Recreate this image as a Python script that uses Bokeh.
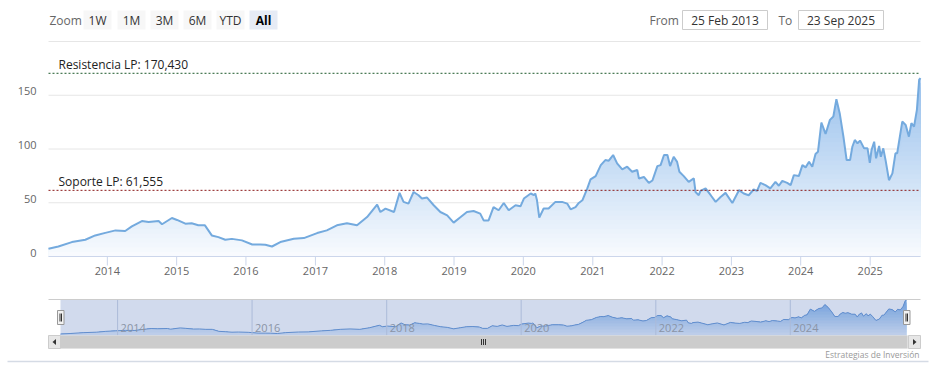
import numpy as np
import pandas as pd
from bokeh.plotting import figure
from bokeh.models import Range1d
from bokeh.embed import file_html
from bokeh.resources import INLINE
from bokeh.core.properties import value

# ---------------- data ----------------
dates = [
    "2013-02-25", "2013-04-18", "2013-06-28", "2013-09-07", "2013-10-29", "2013-12-21",
    "2014-02-13", "2014-04-05", "2014-05-10", "2014-07-02", "2014-08-06", "2014-09-28", "2014-10-16", "2014-12-07",
    "2015-01-03", "2015-02-16", "2015-03-21", "2015-04-25", "2015-05-30", "2015-07-05", "2015-08-09", "2015-09-14",
    "2015-10-19", "2015-12-11",
    "2016-02-03", "2016-03-16", "2016-04-12", "2016-05-17", "2016-06-30", "2016-09-09", "2016-11-01",
    "2017-01-10", "2017-03-02", "2017-04-24", "2017-06-16", "2017-08-08", "2017-09-30", "2017-11-22", "2017-12-09",
    "2018-01-05", "2018-02-19", "2018-03-20", "2018-04-10", "2018-05-06", "2018-06-02", "2018-06-28", "2018-07-16",
    "2018-08-12", "2018-09-16", "2018-10-21", "2018-11-26", "2018-12-30",
    "2019-02-05", "2019-03-10", "2019-04-14", "2019-05-19", "2019-06-06", "2019-07-02", "2019-07-28", "2019-08-24",
    "2019-09-20", "2019-10-16", "2019-11-21", "2019-12-17",
    "2020-01-04", "2020-02-09", "2020-02-26", "2020-03-04", "2020-03-13", "2020-03-25", "2020-04-17", "2020-05-13",
    "2020-06-18", "2020-07-23", "2020-08-19", "2020-09-06", "2020-10-02", "2020-10-19", "2020-11-07", "2020-12-03",
    "2020-12-20",
    "2021-01-16", "2021-02-12", "2021-03-08", "2021-03-25", "2021-04-18", "2021-05-09", "2021-06-05", "2021-07-01",
    "2021-07-27", "2021-08-23", "2021-09-01", "2021-09-27", "2021-10-23", "2021-11-11", "2021-12-07", "2021-12-24",
    "2022-01-11", "2022-01-29", "2022-02-12", "2022-03-03", "2022-03-21", "2022-04-02", "2022-04-25", "2022-05-21",
    "2022-06-17", "2022-06-26", "2022-07-13", "2022-07-22", "2022-08-18", "2022-09-14", "2022-10-10", "2022-11-05",
    "2022-12-01",
    "2023-01-06", "2023-02-10", "2023-03-07", "2023-04-02", "2023-04-28", "2023-05-16", "2023-06-03", "2023-06-29",
    "2023-07-25", "2023-08-21", "2023-09-08", "2023-09-26", "2023-10-22", "2023-11-09", "2023-11-26", "2023-12-22",
    "2024-01-10", "2024-01-27", "2024-02-14", "2024-03-02", "2024-03-19", "2024-04-01", "2024-04-19", "2024-05-11",
    "2024-06-03", "2024-06-21", "2024-07-07", "2024-07-25", "2024-08-13", "2024-08-30", "2024-09-17", "2024-09-29",
    "2024-10-12", "2024-10-26", "2024-11-09", "2024-11-30", "2024-12-18", "2024-12-30",
    "2025-01-08", "2025-01-22", "2025-02-01", "2025-02-17", "2025-02-26", "2025-03-11", "2025-03-23", "2025-04-10",
    "2025-04-28", "2025-05-14", "2025-05-23", "2025-06-19", "2025-07-07", "2025-07-24", "2025-08-06", "2025-08-20",
    "2025-09-04", "2025-09-16", "2025-09-23",
]
prices = [
    7.2, 9.3, 13.4, 15.6, 19.6, 22,
    24.3, 23.7, 28, 33, 32, 33, 30, 35.8,
    34, 30.5, 30.9, 29, 29, 19.6, 18, 15.6, 16.4, 15,
    11.2, 11.2, 10.9, 9.3, 13.4, 16.5, 17.1,
    21.8, 24.3, 29, 31, 29, 36.7, 48.3, 41.4,
    44.6, 41.4, 59.2, 50.8, 49.2, 60, 57, 53.9, 54.8, 47.7, 41.4, 38.3, 31.5,
    36.7, 41.4, 42.3, 39.9, 33.6, 33.6, 46, 43, 49.8, 43, 47.7, 46.7,
    53.9, 58.6, 57, 58.6, 52.3, 36.2, 44.6, 44.6, 50.8, 50.8, 49.2, 43.9, 46, 49.8, 52.3, 63.3, 71.7,
    74.8, 85, 89.7, 89, 94.4, 86.6, 81, 83.5, 78.8, 80.4, 72.6, 74, 68.5, 70.7, 84.1, 85,
    94.4, 94.4, 84.1, 92.8, 88, 78.8, 74.8, 69.4, 72.6, 60, 57, 61, 63.3, 57, 50.8, 55.4, 59.2,
    49.8, 61.7, 58.6, 57, 62.3, 61, 68.5, 66.4, 63.3, 69.4, 65.8, 70.4, 68.5, 66.4, 75.7, 74.8,
    85, 82.9, 88.1, 83.5, 95.3, 97.5, 124.6, 114, 127.1, 130.2, 146.4, 132.7, 111.5, 89.7, 89.7, 102.1,
    108.4, 105.3, 107.8, 100.6, 100.6, 87.2,
    99, 106.8, 91.3, 102.8, 92.8, 100.6, 89.7, 71, 77.3, 96, 96, 125.5, 122.4, 111.5, 124, 120.8,
    136.4, 164.5, 166,
]
year_ticks = [2014, 2015, 2016, 2017, 2018, 2019, 2020, 2021, 2022, 2023, 2024, 2025]
nav_year_ticks = [2014, 2016, 2018, 2020, 2022, 2024]
y_ticks = [0, 50, 100, 150, 200]
y_tick_labels = ["0", "50", "100", "150", ""]
resistance = 170.430
support = 61.555
range_start = "2013-02-25"
range_end = "2025-09-23"
zoom_buttons = ["1W", "1M", "3M", "6M", "YTD", "All"]
selected_button = "All"
credit = "Estrategias de Inversión"

FONT = "Open Sans"

dt = pd.to_datetime(dates)
vals = np.array(prices, dtype=float)
x0 = pd.Timestamp(range_start)
x1 = pd.Timestamp(range_end)


def ms(t):
    return pd.Timestamp(t).value / 1e6


def mix(c_lo, c_hi, t):
    r = [int(round(a + (b - a) * t)) for a, b in zip(c_lo, c_hi)]
    return "#%02x%02x%02x" % tuple(r)


def fmt_es(v):
    return f"{v:,.3f}".replace(",", " ").replace(".", ",").replace(" ", ".")


# ---------------- one canvas; default ranges are page pixels ----------------
W, H = 930, 368
PX0, PY0 = 0, 0
p = figure(width=W, height=H, x_range=Range1d(PX0, PX0 + W), y_range=Range1d(PY0 + H, PY0),
           x_axis_type=None, y_axis_type=None, toolbar_location=None,
           output_backend="svg", min_border=0)
p.outline_line_color = None
p.grid.visible = False

# plot-area geometry (pixels) -> library ranges
PL, PR, PT, PB = 48, 920, 41, 256          # main plot frame
NL, NR, NT, NB = 60, 906, 299, 335         # navigator series area
YMAX, NVMAX = 200, 170

k1 = (ms(x1) - ms(x0)) / (PR - PL)
p.extra_x_ranges["date"] = Range1d(ms(x0) - (PL - PX0) * k1, ms(x1) + (PX0 + W - PR) * k1)
kp = YMAX / (PB - PT)
p.extra_y_ranges["price"] = Range1d(0 - (PY0 + H - PB) * kp, YMAX + (PT - PY0) * kp)
k2 = (ms(x1) - ms(x0)) / (NR - NL)
p.extra_x_ranges["navdate"] = Range1d(ms(x0) - (NL - PX0) * k2, ms(x1) + (PX0 + W - NR) * k2)
kv = NVMAX / (NB - NT)
p.extra_y_ranges["navval"] = Range1d(0 - (PY0 + H - NB) * kv, NVMAX + (NT - PY0) * kv)

MAIN = dict(x_range_name="date", y_range_name="price")
NAV = dict(x_range_name="navdate", y_range_name="navval")

# ---------------- header (range selector) ----------------
btn_left = [83, 117, 150, 183, 216, 249]
btn_w = 28
for lbl, left in zip(zoom_buttons, btn_left):
    sel = lbl == selected_button
    p.quad(left=left, right=left + btn_w, top=10, bottom=29,
           fill_color="#e6ebf5" if sel else "#f7f7f7", line_color=None)
    p.text(x=[left + btn_w / 2], y=[19.5], text=[lbl], text_align="center", text_baseline="middle",
           text_font=value(FONT), text_font_size="12px", text_color="#000000" if sel else "#333333",
           text_font_style="bold" if sel else "normal")
p.text(x=[49], y=[19.5], text=["Zoom"], text_align="left", text_baseline="middle",
       text_font=value(FONT), text_font_size="12px", text_color="#666666")
p.text(x=[649], y=[19.5], text=["From"], text_align="left", text_baseline="middle",
       text_font=value(FONT), text_font_size="12px", text_color="#666666")
p.text(x=[778], y=[19.5], text=["To"], text_align="left", text_baseline="middle",
       text_font=value(FONT), text_font_size="12px", text_color="#666666")
for left, t in [(682, x0), (798, x1)]:
    p.quad(left=left, right=left + 85, top=10, bottom=29, fill_color="white", line_color="#cccccc")
    p.text(x=[left + 42.5], y=[19.5], text=[t.strftime("%d %b %Y")], text_align="center",
           text_baseline="middle", text_font=value(FONT), text_font_size="12px", text_color="#333333")

# ---------------- main chart ----------------
# horizontal grid + y labels
p.segment(x0=ms(x0), x1=ms(x1), y0=y_ticks[1:], y1=y_ticks[1:], line_color="#e6e6e6", line_width=1, **MAIN)
p.text(x=ms(x0), y=y_ticks, text=y_tick_labels, x_offset=-12, y_offset=-4, text_align="right",
       text_baseline="middle", text_font=value(FONT), text_font_size="11px", text_color="#666666", **MAIN)

# gradient area (stacked overlapping bands, darkest first)
edges = np.linspace(0, NVMAX, 41)[1:]
c_lo, c_hi = (250, 252, 254), (150, 191, 236)
for hi in edges[::-1]:
    p.varea(x=dt, y1=0, y2=np.minimum(vals, hi), fill_color=mix(c_lo, c_hi, hi / NVMAX), **MAIN)
p.line(dt, vals, line_color="#74aade", line_width=2, **MAIN)

# x axis line, ticks, labels
xt = [ms(f"{y}-01-01") for y in year_ticks]
p.segment(x0=ms(x0), x1=ms(x1), y0=0, y1=0, line_color="#ccd6eb", line_width=1, **MAIN)
p.segment(x0=xt, x1=xt, y0=PB, y1=PB + 9, line_color="#ccd6eb", line_width=1, x_range_name="date")
p.text(x=xt, y=PB + 14, text=[str(y) for y in year_ticks], text_align="center", text_baseline="middle",
       text_font=value(FONT), text_font_size="11px", text_color="#666666", x_range_name="date")

# support / resistance
for lvl, col, name in [(resistance, "#1d5a2c", "Resistencia LP"), (support, "#8b1a1a", "Soporte LP")]:
    p.segment(x0=ms(x0), x1=ms(x1), y0=lvl, y1=lvl, line_color=col, line_dash="2 2", line_width=1, **MAIN)
    p.text(x=ms(x0), y=lvl, text=[f"{name}: {fmt_es(lvl)}"], x_offset=10, text_align="left",
           text_baseline="bottom", text_font=value(FONT), text_font_size="12px", text_color="#222222", **MAIN)

# ---------------- navigator ----------------
n_lo, n_hi = (236, 243, 252), (120, 172, 230)
for hi in np.linspace(0, NVMAX, 13)[1:][::-1]:
    p.varea(x=dt, y1=0, y2=np.minimum(vals, hi), fill_color=mix(n_lo, n_hi, hi / NVMAX), **NAV)
p.line(dt, vals, line_color="#5f92d2", line_width=1, **NAV)

nav_x = [ms(f"{y}-01-01") for y in nav_year_ticks]
p.segment(x0=nav_x, y0=NT, x1=nav_x, y1=NB, line_color="#c9d2e2", line_width=1, x_range_name="navdate")
p.quad(left=NL, right=NR, top=NT, bottom=NB, fill_color="#6685c2", fill_alpha=0.3, line_color=None)
p.text(x=nav_x, y=NB - 7.5, text=[str(y) for y in nav_year_ticks], x_offset=3, x_range_name="navdate",
       text_font=value(FONT), text_font_size="11px", text_color="#8a94a6", text_baseline="middle")
p.segment(x0=PL, y0=NT, x1=PR, y1=NT, line_color="#cccccc", line_width=1)

# scrollbar
p.quad(left=PL, right=PR, top=NB, bottom=NB + 13, fill_color="#f2f2f2", line_color=None)
p.quad(left=NL, right=NR + 1, top=NB, bottom=NB + 13, fill_color="#cccccc", line_color=None)
for l in (PL, PR - 12):
    p.quad(left=l, right=l + 12, top=NB, bottom=NB + 13, fill_color="#e6e6e6", line_color="#cccccc")
p.patches(xs=[[55.5, 55.5, 52], [912.5, 912.5, 916]], ys=[[338.5, 344.5, 341.5], [338.5, 344.5, 341.5]],
          fill_color="#333333", line_color=None)
p.segment(x0=[481, 483, 485], y0=338.5, x1=[481, 483, 485], y1=344.5, line_color="#333333", line_width=1)

# handles
for l in (NL - 3, NR - 3):
    p.quad(left=l, right=l + 6.5, top=310, bottom=324, fill_color="#f2f2f2", line_color="#999999")
    p.segment(x0=[l + 2.5, l + 4], y0=313, x1=[l + 2.5, l + 4], y1=321, line_color="#333333", line_width=1)

p.text(x=[919], y=[353.5], text=[credit], text_align="right", text_baseline="middle",
       text_font=value(FONT), text_font_size="8.5px", text_color="#999999")
p.segment(x0=7, y0=361, x1=928, y1=361, line_color="#d5dbe5", line_width=1.5)

open("out.html", "w").write(file_html(p, INLINE))
